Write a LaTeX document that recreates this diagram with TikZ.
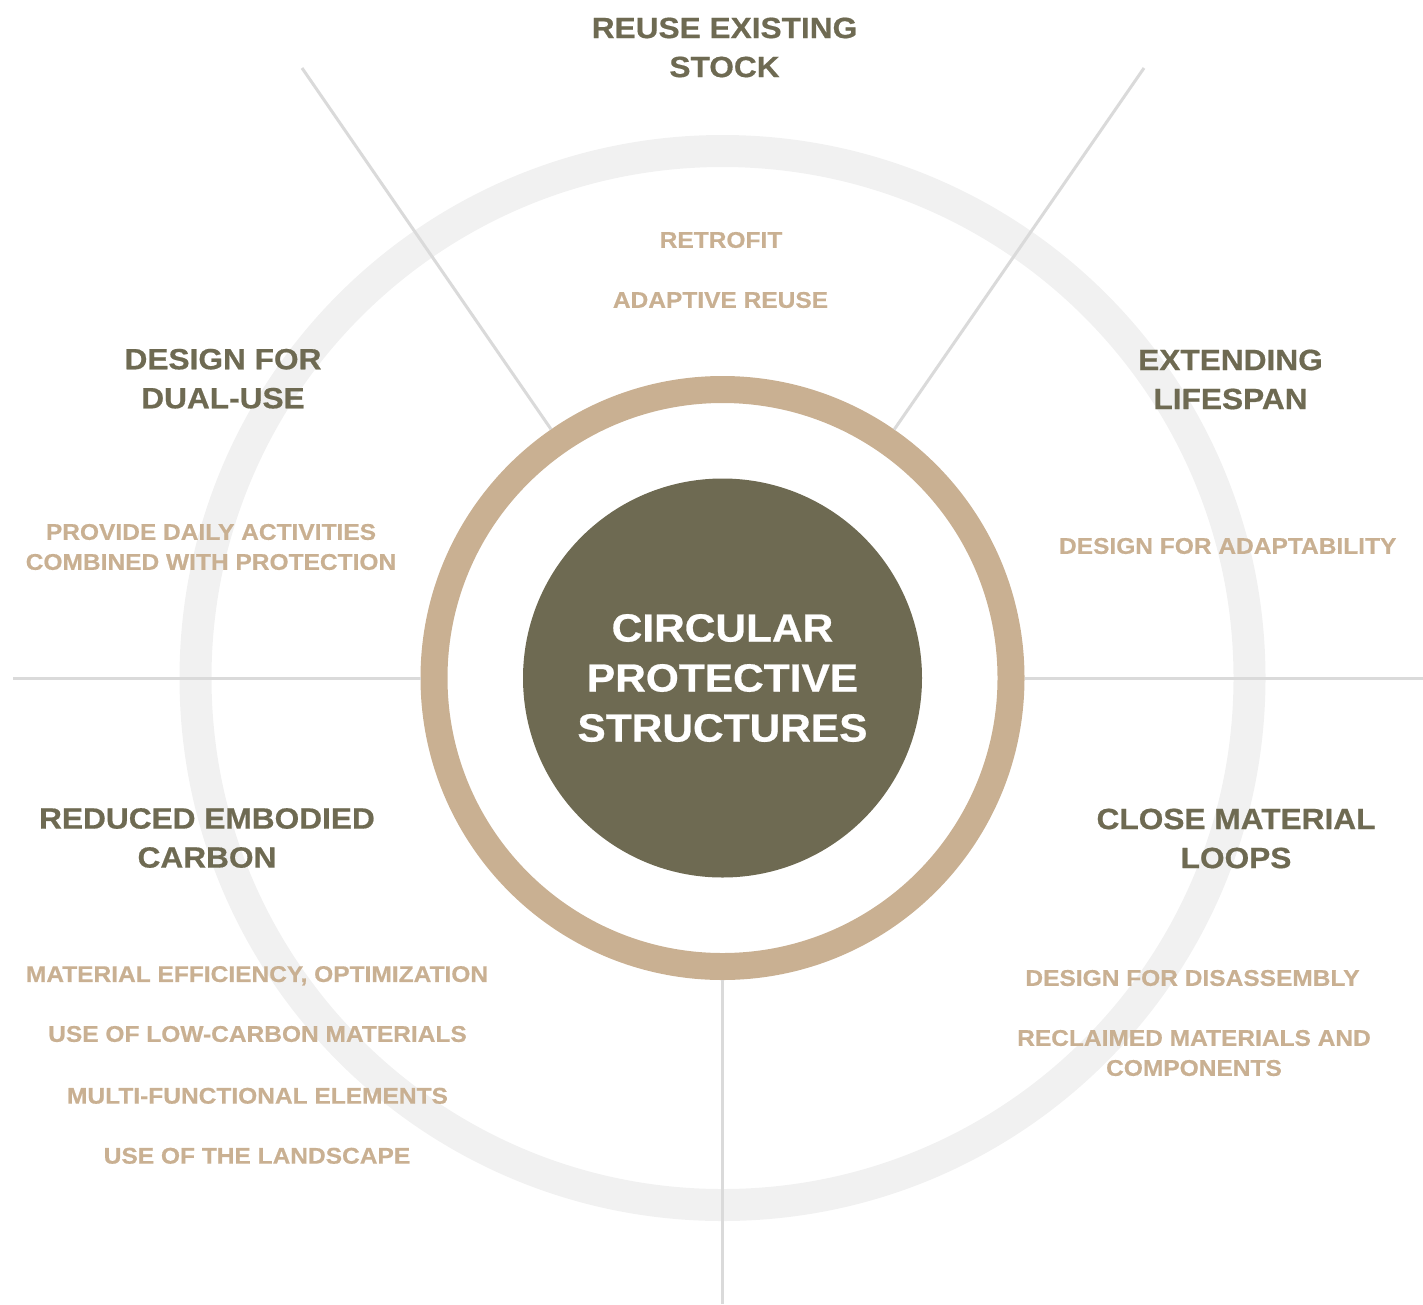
\documentclass[tikz,border=0pt]{standalone}
\usepackage{fontspec}
\setmainfont{Liberation Sans}[FakeStretch=1.08, BoldFeatures={FakeBold=0.6}]
\definecolor{cpOlive}{HTML}{6E6A52}
\definecolor{cpTan}{HTML}{C9B092}
\definecolor{cpRing}{HTML}{F1F1F1}
\definecolor{cpLine}{HTML}{DADADA}
\begin{document}
\begin{tikzpicture}[x=1pt,y=-1pt,
  title/.style={text=cpOlive, font=\bfseries\fontsize{29.3}{39}\selectfont, align=center, inner sep=0pt},
  sub/.style={text=cpTan, font=\bfseries\fontsize{22.7}{30}\selectfont, align=center, inner sep=0pt},
  spoke/.style={draw=cpLine, line width=3pt},
  bigring/.style={circle, draw=cpRing, line width=32pt, minimum size=1054pt, inner sep=0pt},
  tanring/.style={circle, draw=cpTan, line width=27pt, minimum size=577pt, inner sep=0pt},
  core/.style={circle, fill=cpOlive, minimum size=399pt, inner sep=0pt, text=white, align=center, font=\bfseries\fontsize{39.3}{50}\selectfont}]
\useasboundingbox (0,0) rectangle (1423,1304);
% rings
\node[bigring] (outer) at (722.5,678) {};
\node[tanring] (ring) at (722.5,678) {};
% spokes
\coordinate (ul) at (302,68);
\coordinate (ur) at (1144,68);
\coordinate (le) at (13,678);
\coordinate (ri) at (1423,678);
\coordinate (bo) at (722.5,1304);
\draw[spoke] (ring) -- (ul);
\draw[spoke] (ring) -- (ur);
\draw[spoke] (ring) -- (le);
\draw[spoke] (ring) -- (ri);
\draw[spoke] (ring) -- (bo);
% core
\node[core] (center) at (722.5,678) {CIRCULAR\\PROTECTIVE\\STRUCTURES};
% titles
\node[title] (reuse) at (724.5,47.5) {REUSE EXISTING\\STOCK};
\node[title] (dual) at (223,378.7) {DESIGN FOR\\DUAL-USE};
\node[title] (extend) at (1230.5,379.5) {EXTENDING\\LIFESPAN};
\node[title] (reduced) at (207,838) {REDUCED EMBODIED\\CARBON};
\node[title] (close) at (1236,838.5) {CLOSE MATERIAL\\LOOPS};
% sub items
\node[sub] (retrofit) at (721,240) {RETROFIT};
\node[sub] (adaptive) at (720.5,300) {ADAPTIVE REUSE};
\node[sub] (daily) at (211,547) {PROVIDE DAILY ACTIVITIES\\COMBINED WITH PROTECTION};
\node[sub] (adaptab) at (1227.7,546) {DESIGN FOR ADAPTABILITY};
\node[sub, text depth=0pt] (mateff) at (257,974) {MATERIAL EFFICIENCY, OPTIMIZATION};
\node[sub] (lowc) at (257.5,1034) {USE OF LOW-CARBON MATERIALS};
\node[sub] (multi) at (257.5,1095.8) {MULTI-FUNCTIONAL ELEMENTS};
\node[sub] (land) at (257,1155.8) {USE OF THE LANDSCAPE};
\node[sub] (disas) at (1192.5,978) {DESIGN FOR DISASSEMBLY};
\node[sub] (reclaim) at (1194,1053) {RECLAIMED MATERIALS AND\\COMPONENTS};
\end{tikzpicture}
\end{document}
